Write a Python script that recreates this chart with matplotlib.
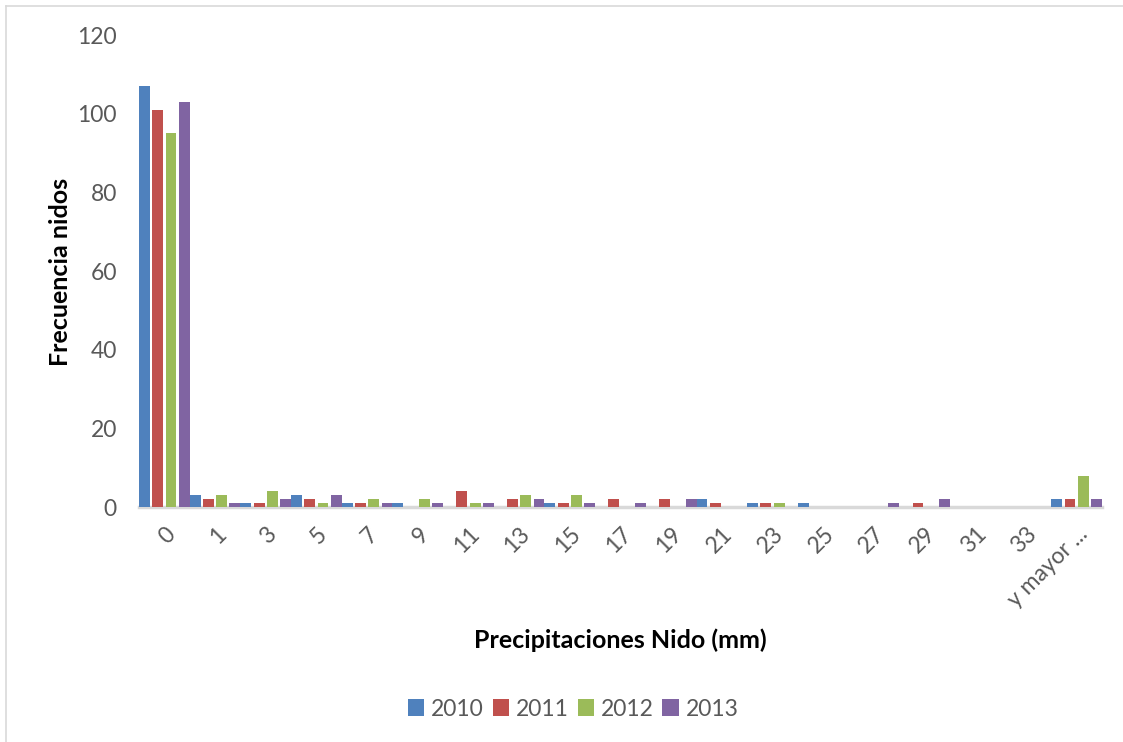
import numpy as np
import matplotlib.pyplot as plt
from matplotlib.patches import Patch
from matplotlib.lines import Line2D

plt.rcParams['font.family'] = ['Lato', 'DejaVu Sans']

categorias = ['0', '1', '3', '5', '7', '9', '11', '13', '15', '17', '19',
              '21', '23', '25', '27', '29', '31', '33', 'y mayor ...']
f2010 = [107, 3, 1, 3, 1, 1, 0, 0, 1, 0, 0, 2, 1, 1, 0, 0, 0, 0, 2]
f2011 = [101, 2, 1, 2, 1, 0, 4, 2, 1, 2, 2, 1, 1, 0, 0, 1, 0, 0, 2]
f2012 = [95, 3, 4, 1, 2, 2, 1, 3, 3, 0, 0, 0, 1, 0, 0, 0, 0, 0, 8]
f2013 = [103, 1, 2, 3, 1, 1, 1, 2, 1, 1, 2, 0, 0, 0, 1, 2, 0, 0, 2]
anios = ['2010', '2011', '2012', '2013']
colores = ['#4F81BD', '#C0504D', '#9BBB59', '#8064A2']

gris = '#595959'
fig = plt.figure(figsize=(11.23, 7.42), dpi=100)
ax = fig.add_axes([139 / 1123, 235 / 742, 963 / 1123, 472 / 742])

x = np.arange(len(categorias))
for i, (serie, c) in enumerate(zip([f2010, f2011, f2012, f2013], colores)):
    ax.bar(x + (i - 1.5) * 0.262, serie, width=0.215, color=c, zorder=3)

ax.set_xlim(-0.5, len(categorias) - 0.5)
ax.set_ylim(0, 120)
ax.set_yticks(range(0, 121, 20))
ax.set_xticks(x)
ax.set_xticklabels(categorias, rotation=45, ha='right', rotation_mode='anchor')
ax.tick_params(axis='both', length=0, labelsize=16.5, labelcolor=gris)
ax.tick_params(axis='y', pad=16)
ax.tick_params(axis='x', pad=12)

for s in ['top', 'right', 'left']:
    ax.spines[s].set_visible(False)
ax.spines['bottom'].set_color('#d9d9d9')
ax.spines['bottom'].set_linewidth(2.5)

fig.text(60 / 1123, 1 - 272 / 742, 'Frecuencia nidos', rotation=90,
         ha='center', va='center', fontsize=18, fontweight='bold')
fig.text(620 / 1123, 1 - 640 / 742, 'Precipitaciones Nido (mm)',
         ha='center', va='center', fontsize=18, fontweight='bold')

handles = [Patch(facecolor=c, label=a) for a, c in zip(anios, colores)]
fig.legend(handles=handles, loc='center', bbox_to_anchor=(573 / 1123, 1 - 709 / 742),
           ncol=4, frameon=False, fontsize=16.5, handlelength=0.7, handleheight=0.7,
           handletextpad=0.3, columnspacing=0.4, labelcolor=gris)

# marco del grafico
fig.add_artist(Line2D([6 / 1123, 1], [1 - 6 / 742] * 2, color='#d9d9d9', lw=1.2,
                      transform=fig.transFigure))
fig.add_artist(Line2D([6 / 1123] * 2, [0, 1 - 6 / 742], color='#d9d9d9', lw=1.2,
                      transform=fig.transFigure))

fig.savefig('out.png', dpi=100, facecolor='white')
